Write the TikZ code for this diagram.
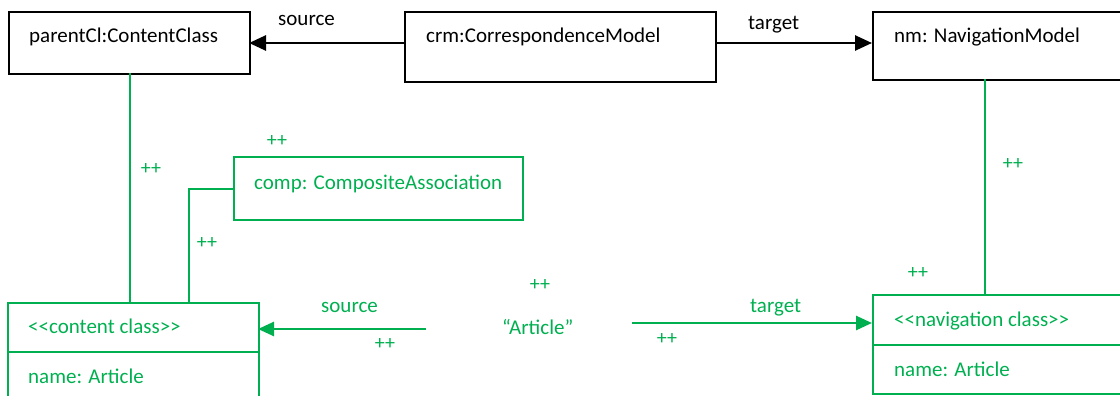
\documentclass[tikz,border=0pt]{standalone}
\usepackage{fontspec}
\setmainfont{Carlito}
\usetikzlibrary{arrows.meta}
\definecolor{og}{RGB}{0,176,80}
\newcommand{\lt}{<\kern0pt}
\newcommand{\gt}{>\kern0pt}
\begin{document}
\begin{tikzpicture}[x=1pt,y=-1pt,
  bbox/.style={draw=black,line width=2pt,anchor=north west,inner sep=0pt,minimum width=#1},
  gbox/.style={draw=og,line width=1.8pt,anchor=north west,inner sep=0pt,minimum width=#1},
  txt/.style={anchor=base west,inner sep=0pt,font=\fontsize{21}{24}\selectfont},
  gtxt/.style={txt,text=og},
  pp/.style={inner sep=0pt,text=og,font=\fontsize{20}{22}\selectfont},
  barrow/.style={draw=black,line width=2.6pt,-{Triangle[length=17pt,width=15pt]}},
  garrow/.style={draw=og,line width=2.6pt,-{Triangle[length=16pt,width=14pt]}},
  gline/.style={draw=og,line width=1.5pt}]
\useasboundingbox (0,0) rectangle (1120,396);
% black boxes
\node[bbox=241pt,minimum height=62pt] (pc) at (8,11) {};
\node[bbox=311pt,minimum height=70pt] (crm) at (404,11) {};
\node[bbox=300pt,minimum height=68pt] (nm) at (872,11) {};
\node[txt] (pct) at (29,43) {parentCl:ContentClass};
\node[txt] (crmt) at (426,43) {crm:CorrespondenceModel};
\node[txt] (nmt) at (894,43) {nm: NavigationModel};
% black arrows
\coordinate (crmL) at (404,43);
\coordinate (crmR) at (715,43);
\coordinate (pcR) at (249,43);
\coordinate (nmL) at (872,43);
\draw[barrow] (crmL) -- (pcR);
\draw[barrow] (crmR) -- (nmL);
\node[txt] (srcb) at (278,26) {source};
\node[txt] (tgtb) at (748,30) {target};
% comp box
\node[gbox=289pt,minimum height=63pt] (comp) at (233,156) {};
\node[gtxt] (compt) at (254,189) {comp: CompositeAssociation};
% content class box
\node[gbox=251pt,minimum height=120pt] (cc) at (7,302) {};
\coordinate (ccdl) at (7,352);
\coordinate (ccdr) at (258,352);
\draw[gline,line width=1.8pt] (ccdl) -- (ccdr);
\node[gtxt] (cct) at (28,333) {\lt\lt content class\gt\gt};
\node[gtxt] (ccn) at (28,383) {name: Article};
% navigation class box
\node[gbox=300pt,minimum height=99pt] (nc) at (872,294) {};
\coordinate (ncdl) at (872,345);
\coordinate (ncdr) at (1130,345);
\draw[gline,line width=1.8pt] (ncdl) -- (ncdr);
\node[gtxt] (nct) at (894,326) {\lt\lt navigation class\gt\gt};
\node[gtxt] (ncn) at (894,376) {name: Article};
% green connectors
\coordinate (pcB) at (130,73);
\coordinate (ccT1) at (130,302);
\draw[gline] (pcB) -- (ccT1);
\coordinate (compL) at (233,189);
\coordinate (bend) at (189,189);
\coordinate (ccT2) at (189,302);
\draw[gline] (compL) -- (bend) -- (ccT2);
\coordinate (nmB) at (985,79);
\coordinate (ncT) at (985,294);
\draw[gline] (nmB) -- (ncT);
% Article literal
\node[gtxt] (art) at (502,334) {“Article”};
\coordinate (artL) at (426,329);
\coordinate (ccR) at (258,329);
\draw[garrow] (artL) -- (ccR);
\coordinate (artR) at (632,323);
\coordinate (ncL) at (872,323);
\draw[garrow] (artR) -- (ncL);
\node[gtxt] (srcg) at (321,312) {source};
\node[gtxt] (tgtg) at (750,312) {target};
% multiplicities
\node[pp] (p1) at (277,141) {++};
\node[pp] (p2) at (151,169) {++};
\node[pp] (p3) at (207,243) {++};
\node[pp] (p4) at (385,344) {++};
\node[pp] (p5) at (540,285) {++};
\node[pp] (p6) at (667,339) {++};
\node[pp] (p7) at (1013,164) {++};
\node[pp] (p8) at (918,273) {++};
\end{tikzpicture}
\end{document}
